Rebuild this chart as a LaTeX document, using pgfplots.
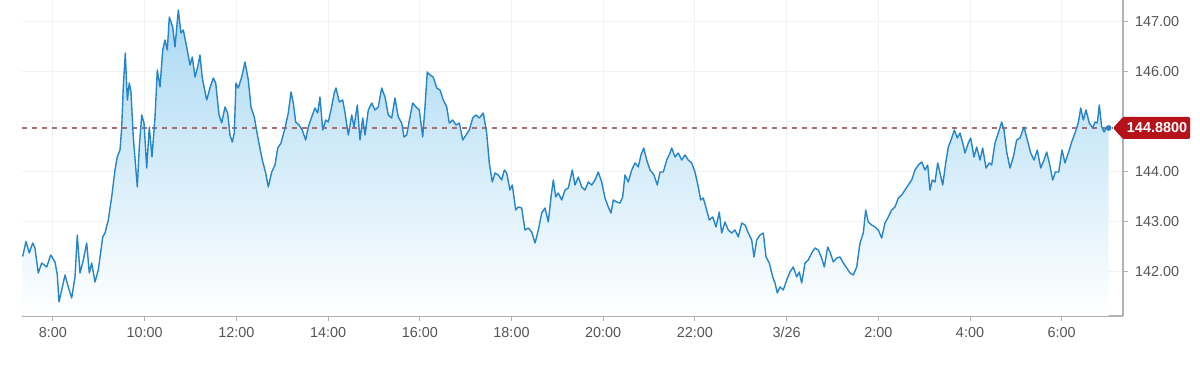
\documentclass[border=0pt]{standalone}
\usepackage{pgfplots}
\pgfplotsset{compat=1.18}
\usepackage{pgfplotstable}
\usepackage{fontspec}
\setmainfont{Liberation Sans}
\definecolor{lineblue}{RGB}{38,132,200}
\definecolor{filltop}{RGB}{170,217,243}
\definecolor{tagred}{RGB}{181,18,27}
\definecolor{ticktext}{RGB}{85,85,85}
\definecolor{dashcol}{RGB}{165,112,112}

\pgfplotstableread{
h v
-0.661 142.31
-0.589 142.61
-0.517 142.38
-0.443 142.58
-0.393 142.48
-0.321 141.98
-0.246 142.18
-0.137 142.10
-0.050 142.34
0.044 142.20
0.094 141.94
0.131 141.40
0.190 141.64
0.262 141.94
0.334 141.70
0.408 141.48
0.480 141.90
0.530 142.74
0.589 141.98
0.661 142.24
0.735 142.58
0.792 141.98
0.844 142.18
0.916 141.80
0.988 142.04
1.084 142.70
1.134 142.78
1.206 143.04
1.280 143.50
1.352 144.04
1.402 144.30
1.461 144.44
1.498 144.88
1.533 145.70
1.577 146.38
1.621 145.44
1.664 145.78
1.701 145.60
1.751 144.70
1.839 143.70
1.882 144.50
1.935 145.14
1.985 144.98
2.044 144.08
2.100 144.90
2.159 144.30
2.225 145.10
2.275 146.04
2.334 145.70
2.393 146.44
2.443 146.64
2.493 146.44
2.537 147.10
2.611 146.90
2.661 146.50
2.733 147.24
2.792 146.78
2.842 146.84
2.916 146.50
2.988 146.14
3.038 146.30
3.097 145.90
3.156 146.10
3.206 146.34
3.256 145.88
3.352 145.44
3.424 145.68
3.496 145.88
3.549 145.78
3.621 145.14
3.679 144.98
3.751 145.30
3.810 145.18
3.860 144.74
3.911 144.60
3.954 144.78
3.991 145.78
4.041 145.68
4.116 145.90
4.188 146.20
4.260 145.84
4.318 145.30
4.390 145.10
4.478 144.64
4.565 144.24
4.639 143.98
4.696 143.70
4.770 144.00
4.842 144.14
4.901 144.48
4.973 144.58
5.060 144.88
5.132 145.18
5.191 145.60
5.241 145.38
5.293 145.00
5.365 144.94
5.437 144.84
5.511 144.64
5.568 144.90
5.642 145.10
5.714 145.28
5.773 145.18
5.823 145.50
5.882 144.84
5.948 145.04
6.004 145.00
6.063 145.24
6.135 145.58
6.172 145.68
6.244 145.40
6.319 145.44
6.369 145.18
6.441 144.74
6.515 145.14
6.565 144.90
6.637 145.34
6.696 144.64
6.755 145.08
6.805 144.74
6.877 145.24
6.951 145.38
7.023 145.24
7.095 145.30
7.169 145.68
7.241 145.50
7.313 145.14
7.387 145.08
7.459 145.48
7.531 145.10
7.605 144.98
7.655 144.70
7.714 144.74
7.786 145.10
7.845 145.38
7.917 145.30
7.989 145.24
8.063 144.70
8.113 145.30
8.163 146.00
8.222 145.94
8.294 145.90
8.369 145.68
8.441 145.64
8.513 145.44
8.587 145.30
8.643 144.98
8.718 145.04
8.790 144.94
8.862 144.98
8.936 144.64
9.008 144.74
9.080 144.84
9.154 145.08
9.226 145.14
9.298 145.08
9.385 145.18
9.459 144.78
9.516 144.18
9.581 143.80
9.640 143.98
9.712 143.94
9.786 143.84
9.843 144.04
9.895 143.98
9.967 143.64
10.018 143.74
10.092 143.24
10.148 143.30
10.222 143.28
10.294 142.84
10.366 142.88
10.441 142.80
10.513 142.58
10.585 142.84
10.659 143.18
10.731 143.28
10.803 143.00
10.862 143.50
10.912 143.84
10.964 143.50
11.021 143.58
11.095 143.44
11.167 143.64
11.239 143.68
11.326 144.04
11.385 143.74
11.457 143.90
11.531 143.70
11.603 143.64
11.675 143.80
11.749 143.74
11.821 143.84
11.893 144.00
11.967 143.80
12.039 143.48
12.111 143.30
12.170 143.18
12.220 143.44
12.294 143.40
12.366 143.38
12.425 143.50
12.475 143.94
12.547 143.80
12.622 144.04
12.694 144.18
12.766 144.10
12.824 144.34
12.883 144.48
12.949 144.24
13.021 144.04
13.108 143.94
13.180 143.74
13.239 144.00
13.311 144.00
13.385 144.24
13.457 144.38
13.494 144.48
13.566 144.30
13.638 144.38
13.712 144.24
13.784 144.34
13.856 144.24
13.930 144.18
14.002 144.00
14.074 143.70
14.126 143.44
14.183 143.48
14.257 143.24
14.314 143.04
14.388 143.10
14.460 142.90
14.532 143.20
14.584 142.78
14.656 143.00
14.728 142.84
14.802 142.78
14.874 142.84
14.946 142.70
15.021 142.98
15.093 142.94
15.165 142.78
15.239 142.64
15.289 142.30
15.348 142.64
15.420 142.74
15.492 142.78
15.551 142.30
15.623 142.18
15.697 141.90
15.747 141.78
15.797 141.58
15.856 141.70
15.928 141.64
16.002 141.84
16.074 142.00
16.146 142.10
16.220 141.90
16.277 142.00
16.329 141.78
16.401 142.18
16.473 142.24
16.547 142.38
16.619 142.48
16.691 142.44
16.765 142.28
16.822 142.10
16.896 142.50
16.947 142.40
17.019 142.20
17.093 142.28
17.165 142.30
17.237 142.18
17.311 142.08
17.383 141.98
17.455 141.94
17.529 142.10
17.601 142.58
17.673 142.78
17.725 143.24
17.782 143.00
17.856 142.94
17.928 142.90
18.000 142.84
18.074 142.68
18.146 142.98
18.218 143.10
18.292 143.24
18.364 143.30
18.436 143.48
18.510 143.54
18.582 143.64
18.654 143.74
18.728 143.84
18.800 144.04
18.872 144.14
18.946 144.20
19.019 144.04
19.077 144.14
19.127 143.64
19.178 143.84
19.237 143.80
19.296 144.18
19.346 143.98
19.405 143.74
19.470 144.18
19.527 144.50
19.586 144.64
19.658 144.84
19.723 144.68
19.782 144.78
19.841 144.58
19.891 144.38
19.963 144.58
20.015 144.68
20.087 144.30
20.146 144.50
20.218 144.24
20.277 144.48
20.349 144.08
20.421 144.18
20.473 144.14
20.545 144.58
20.617 144.78
20.691 145.00
20.742 144.84
20.800 144.40
20.873 144.08
20.944 144.30
21.018 144.64
21.091 144.68
21.178 144.90
21.250 144.64
21.324 144.38
21.396 144.24
21.468 144.44
21.542 144.08
21.614 144.24
21.673 144.40
21.730 144.18
21.804 143.84
21.860 144.00
21.935 144.00
22.007 144.44
22.072 144.18
22.144 144.38
22.218 144.60
22.290 144.78
22.362 144.98
22.415 145.28
22.471 145.04
22.530 145.24
22.602 144.98
22.676 144.88
22.726 145.00
22.776 144.98
22.820 145.34
22.872 144.90
22.924 144.80
22.982 144.90
23.025 144.88
}\pricedata

\begin{document}
\begin{tikzpicture}
\fontsize{7.2}{8.6}\selectfont
\path[use as bounding box] (-11pt,-29.5pt) rectangle (589pt,158pt);
\begin{axis}[
  scale only axis,
  width=550.5pt, height=158pt,
  xmin=-0.676, xmax=23.337,
  ymin=141.12, ymax=147.44,
  axis x line*=bottom,
  axis y line*=right,
  axis line style={draw=gray!60, line width=0.6pt, -},
  tick align=outside,
  major tick length=2.5pt,
  tick style={draw=gray!60, line width=0.5pt},
  xtick={0,2,4,6,8,10,12,14,16,18,20,22},
  xticklabels={8:00,10:00,12:00,14:00,16:00,18:00,20:00,22:00,3/26,2:00,4:00,6:00},
  ytick={142,143,144,145,146,147},
  yticklabels={142.00,143.00,144.00,,146.00,147.00},
  yticklabel style={xshift=1pt},
  ticklabel style={font=\fontsize{7.2}{8.6}\selectfont, text=ticktext},
  xticklabel style={yshift=-0.5pt},
  grid=major,
  major grid style={draw=gray!10, line width=0.5pt},
  extra x ticks={16},
  extra x tick labels={},
  extra x tick style={grid style={draw=gray!30, line width=0.5pt}},
  clip=true,
]
\addplot[draw=none, top color=filltop, bottom color=white]
  table[x=h, y=v] {\pricedata} -- (23.025,141.12) -- (-0.661,141.12) -- cycle;
\addplot[dashcol, dash pattern=on 2.5pt off 2.5pt, line width=0.6pt]
  coordinates {(-0.676,144.88) (23.12,144.88)};
\addplot[lineblue, line width=0.7pt, line join=round] table[x=h, y=v] {\pricedata};
\addplot[only marks, mark=*, mark size=1.2pt, lineblue] coordinates {(23.025,144.88)};
\coordinate (tagpt) at (axis cs:23.119,144.88);
\end{axis}
\fill[tagred, rounded corners=0.6pt] (tagpt) -- ++(5pt,5.5pt) -- ++(33.5pt,0) -- ++(0,-11pt) -- ++(-33.5pt,0) -- cycle;
\node[text=white, font=\fontsize{7.2}{8.6}\selectfont\bfseries, anchor=center] at ([xshift=22pt]tagpt) {144.8800};
\end{tikzpicture}
\end{document}
